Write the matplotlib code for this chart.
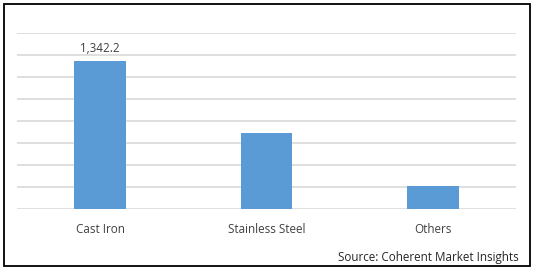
import matplotlib.pyplot as plt
from matplotlib.patches import Rectangle

# data
categories = ["Cast Iron", "Stainless Steel", "Others"]
values = [1342.2, 694, 212]
labels = ["1,342.2", "", ""]

plt.rcParams["font.family"] = ["Open Sans", "DejaVu Sans"]

fig = plt.figure(figsize=(5.34, 2.71), dpi=100)
ax = fig.add_axes([17 / 534, 61.7 / 271, 499 / 534, 176.4 / 271])

x = range(len(categories))
bars = ax.bar(x, values, width=0.31, color="#5B9BD5", zorder=3)

for b, lab in zip(bars, labels):
    if lab:
        ax.text(b.get_x() + b.get_width() / 2, b.get_height() + 60, lab,
                ha="center", va="bottom", fontsize=8.4, color="#404040")

ax.set_xlim(-0.5, 2.5)
ax.set_ylim(0, 1600)
ax.set_yticks(range(0, 1601, 200))
ax.set_yticklabels([])
ax.set_xticks(list(x))
ax.set_xticklabels(categories, fontsize=8.4, color="#404040")
ax.tick_params(axis="both", length=0)
ax.tick_params(axis="x", pad=10)
ax.grid(axis="y", color="#D9D9D9", linewidth=1.2, zorder=0)
for s in ax.spines.values():
    s.set_visible(False)

fig.text(519 / 534, 1 - 257 / 271, "Source: Coherent Market Insights",
         ha="right", va="center", fontsize=8.4, color="#262626")

# outer frame
fig.patches.append(Rectangle((3.5 / 534, 5 / 271), 526.5 / 534, 262 / 271,
                             transform=fig.transFigure, fill=False,
                             edgecolor="black", linewidth=1.3))

fig.savefig("out.png", dpi=100)
